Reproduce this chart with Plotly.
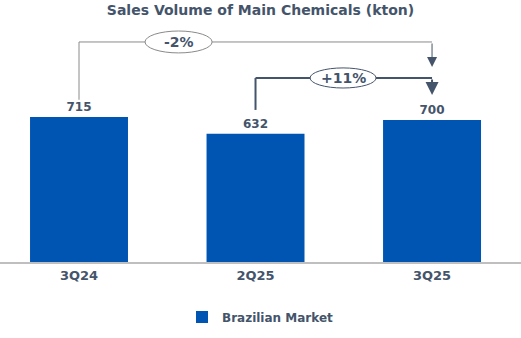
import plotly.graph_objects as go

categories = ["3Q24", "2Q25", "3Q25"]
values = [715, 632, 700]
series_name = "Brazilian Market"
title_text = "Sales Volume of Main Chemicals (kton)"
change_labels = ["-2%", "+11%"]

BAR = "#0055B3"
TXT = "#44546A"
GREY = "#8A8A8A"
FONT = "DejaVu Sans"

fig = go.Figure()
fig.add_trace(go.Bar(
    x=[0, 1, 2], y=values, name=series_name,
    marker=dict(color=BAR, line=dict(width=0)),
    width=0.555,
    text=[str(v) for v in values], textposition="outside",
    textfont=dict(family=FONT, size=12, color=TXT, weight="bold"),
    cliponaxis=False, showlegend=True,
))

shapes = []
annotations = []

# connector 1: 3Q24 -> 3Q25 (grey, thin)
top1 = 1085
shapes.append(dict(type="line", xref="x", yref="y", x0=0, x1=0, y0=values[0] + 85, y1=top1,
                   line=dict(color=GREY, width=1)))
shapes.append(dict(type="line", xref="x", yref="y", x0=0, x1=2, y0=top1, y1=top1,
                   line=dict(color=GREY, width=1)))
annotations.append(dict(x=2, y=962, xref="x", yref="y", ax=2, ay=top1, axref="x", ayref="y",
                        text="", showarrow=True, arrowhead=2, arrowsize=2.0, arrowwidth=1,
                        arrowcolor=TXT))
shapes.append(dict(type="circle", xref="x", yref="y", x0=0.374, x1=0.754, y0=1031, y1=1139,
                   fillcolor="white", line=dict(color=GREY, width=1), layer="above"))
annotations.append(dict(x=0.564, y=1085, xref="x", yref="y", text="<b>" + change_labels[0] + "</b>",
                        showarrow=False, font=dict(family=FONT, size=14, color=TXT)))

# connector 2: 2Q25 -> 3Q25 (dark, thicker)
top2 = 907
shapes.append(dict(type="line", xref="x", yref="y", x0=1, x1=1, y0=values[1] + 118, y1=top2,
                   line=dict(color=TXT, width=2)))
shapes.append(dict(type="line", xref="x", yref="y", x0=1, x1=2, y0=top2, y1=top2,
                   line=dict(color=TXT, width=2)))
annotations.append(dict(x=2, y=823, xref="x", yref="y", ax=2, ay=top2, axref="x", ayref="y",
                        text="", showarrow=True, arrowhead=2, arrowsize=1.3, arrowwidth=2,
                        arrowcolor=TXT))
shapes.append(dict(type="circle", xref="x", yref="y", x0=1.309, x1=1.683, y0=858, y1=957,
                   fillcolor="white", line=dict(color=TXT, width=1), layer="above"))
annotations.append(dict(x=1.496, y=907, xref="x", yref="y", text="<b>" + change_labels[1] + "</b>",
                        showarrow=False, font=dict(family=FONT, size=14, color=TXT)))

fig.update_layout(
    width=521, height=338,
    margin=dict(l=0, r=0, t=30, b=76),
    paper_bgcolor="white", plot_bgcolor="white",
    title=dict(text="<b>" + title_text + "</b>", x=0.5, xanchor="center",
               y=1 - 10 / 338, yanchor="middle", yref="container",
               font=dict(family=FONT, size=14, color=TXT)),
    xaxis=dict(range=[-0.4476, 2.504], tickmode="array", tickvals=[0, 1, 2], ticktext=categories,
               showline=True, linecolor="#BFBFBF", linewidth=2, showgrid=False, zeroline=False,
               ticks="", tickfont=dict(family=FONT, size=13, color=TXT, weight="bold"),
               fixedrange=True),
    yaxis=dict(range=[0, 1144], visible=False, fixedrange=True),
    showlegend=True,
    legend=dict(orientation="h", x=0.5, xanchor="center", y=-0.237, yanchor="middle",
                font=dict(family=FONT, size=12, color=TXT, weight="bold")),
    shapes=shapes, annotations=annotations,
    bargap=0.4,
)

fig.write_html("out.html")
